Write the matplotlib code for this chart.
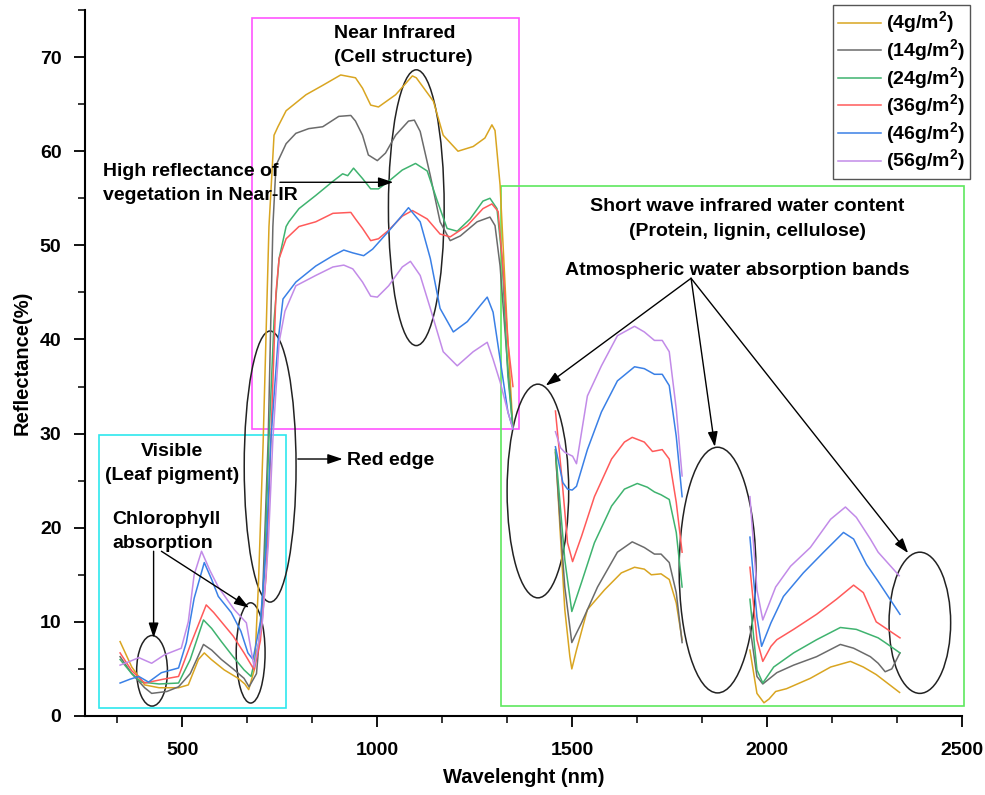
import matplotlib
matplotlib.use('Agg')
import matplotlib.pyplot as plt
import numpy as np
from matplotlib.patches import Ellipse, Rectangle
from matplotlib.ticker import MultipleLocator

nan = np.nan

# wavelength (nm) / reflectance (%) per leaf loading, NaN splits the water bands
wave_4 = [340, 370, 403, 440, 490, 515, 541, 556, 574, 607, 643, 660, 670, 685, 695, 707, 722, 735, 745, 766,
          817, 860, 906, 944, 962, 983, 1003, 1047, 1090, 1100, 1144, 1169, 1207, 1246, 1276, 1294, 1302, 1315,
          1333, 1348, nan,
          1457, 1470, 1481, 1494, 1499, 1511, 1539, 1583, 1626, 1660, 1685, 1703, 1728, 1749, 1767, 1782, nan,
          1956, 1974, 1992, 2005, 2022, 2050, 2111, 2163, 2214, 2247, 2280, 2340]
refl_4 = [7.9, 5.2, 3.3, 3.0, 3.0, 3.3, 6.0, 6.7, 6.0, 4.9, 4.0, 3.4, 2.8, 5.0, 14, 29, 52, 61.7, 62.6, 64.3,
          66.0, 67.0, 68.1, 67.8, 66.7, 64.9, 64.7, 66.0, 68.0, 67.8, 65.3, 61.7, 60.0, 60.5, 61.4, 62.8, 62.2, 56.4,
          41.4, 30.5, nan,
          28.3, 19.0, 11.3, 6.3, 5.0, 7.0, 11.3, 13.4, 15.2, 15.8, 15.6, 15.0, 15.1, 14.5, 12.0, 8.1, nan,
          7.0, 2.4, 1.4, 1.8, 2.6, 2.9, 4.0, 5.2, 5.8, 5.2, 4.4, 2.5]

wave_14 = [340, 370, 403, 421, 460, 490, 520, 554, 575, 600, 630, 658, 671, 690, 705, 720, 732, 740, 766, 791,
           824, 860, 901, 932, 944, 962, 977, 1000, 1021, 1047, 1080, 1095, 1110, 1136, 1161, 1187, 1213, 1256,
           1289, 1302, 1315, 1333, 1348, nan,
           1457, 1470, 1481, 1499, 1524, 1565, 1616, 1654, 1685, 1711, 1728, 1749, 1767, 1782, nan,
           1956, 1974, 1989, 2025, 2068, 2127, 2188, 2222, 2265, 2285, 2303, 2320, 2341]
refl_14 = [6.3, 4.5, 3.0, 2.4, 2.6, 3.1, 4.5, 7.6, 7.0, 6.0, 5.0, 4.0, 3.1, 4.5, 12, 29.4, 52, 58.5, 60.8, 61.9,
           62.4, 62.6, 63.7, 63.8, 63.2, 61.7, 59.6, 59.0, 59.8, 61.7, 63.2, 63.3, 62.1, 57.4, 52.5, 50.5, 51.0, 52.5,
           53.0, 52.1, 47.8, 37.9, 30.5, nan,
           28.0, 20.0, 13.7, 7.8, 9.9, 13.7, 17.4, 18.5, 17.9, 17.2, 17.2, 16.3, 13.1, 7.8, nan,
           9.5, 4.2, 3.4, 4.6, 5.4, 6.3, 7.6, 7.2, 6.3, 5.6, 4.7, 5.0, 6.7]

wave_24 = [340, 370, 395, 440, 490, 520, 554, 575, 600, 630, 658, 676, 697, 710, 722, 735, 748, 766, 773, 799,
           842, 886, 911, 924, 939, 962, 983, 1003, 1029, 1064, 1098, 1128, 1154, 1179, 1205, 1238, 1271, 1289,
           1307, 1320, 1335, 1348, nan,
           1457, 1470, 1481, 1499, 1524, 1557, 1601, 1634, 1667, 1693, 1711, 1728, 1749, 1767, 1782, nan,
           1956, 1974, 1989, 2017, 2068, 2127, 2188, 2229, 2285, 2303, 2341]
refl_24 = [6.0, 4.5, 3.6, 3.4, 3.5, 6.0, 10.2, 9.3, 7.9, 6.3, 4.9, 4.2, 8, 15, 29.4, 42, 48.6, 52, 52.5, 53.9,
           55.3, 56.8, 57.6, 57.4, 58.2, 57.1, 56.0, 56.0, 56.8, 58.0, 58.7, 57.9, 54.7, 51.8, 51.5, 52.8, 54.7, 55.0,
           53.9, 48.6, 36.1, 30.5, nan,
           28.3, 22.0, 16.6, 11.1, 14.2, 18.4, 22.3, 24.1, 24.7, 24.3, 23.8, 23.5, 23.0, 19.5, 13.7, nan,
           12.4, 4.9, 3.5, 5.2, 6.7, 8.1, 9.4, 9.2, 8.3, 7.8, 6.7]

wave_36 = [340, 370, 403, 450, 490, 520, 561, 580, 600, 630, 658, 684, 700, 715, 727, 740, 748, 766, 799, 842,
           886, 932, 944, 962, 983, 1003, 1029, 1064, 1090, 1128, 1161, 1187, 1231, 1271, 1294, 1310, 1322, 1335,
           1348, nan,
           1457, 1473, 1488, 1501, 1524, 1557, 1601, 1634, 1654, 1685, 1706, 1731, 1749, 1767, 1782, nan,
           1956, 1974, 1989, 2010, 2025, 2068, 2127, 2178, 2222, 2247, 2280, 2341]
refl_36 = [6.7, 4.8, 3.5, 3.9, 4.2, 7.5, 11.8, 11.0, 10.0, 8.5, 6.7, 4.9, 8, 15, 29.4, 45, 48.6, 50.7, 52.0, 52.5,
           53.4, 53.5, 52.8, 51.8, 50.5, 50.7, 51.6, 53.1, 53.7, 52.8, 51.2, 50.9, 52.1, 53.9, 54.4, 53.6, 47.8, 39.7,
           35.0, nan,
           32.4, 25.5, 18.4, 16.4, 19.1, 23.3, 27.3, 29.1, 29.6, 29.1, 28.1, 28.3, 27.3, 22.7, 17.4, nan,
           15.8, 8.1, 5.8, 7.4, 8.1, 9.2, 10.8, 12.4, 13.9, 13.1, 10.0, 8.3]

wave_46 = [340, 365, 388, 413, 446, 490, 510, 530, 556, 575, 592, 625, 650, 668, 681, 700, 715, 727, 745, 758,
           791, 842, 886, 914, 937, 965, 988, 1029, 1064, 1080, 1110, 1136, 1161, 1195, 1231, 1264, 1282, 1297,
           1315, 1335, 1348, nan,
           1457, 1476, 1488, 1500, 1511, 1539, 1575, 1616, 1660, 1685, 1711, 1731, 1749, 1767, 1782, nan,
           1956, 1974, 1986, 2010, 2042, 2093, 2145, 2196, 2222, 2255, 2285, 2341]
refl_46 = [3.5, 3.9, 4.2, 3.6, 4.6, 5.1, 7.8, 12.5, 16.3, 14.5, 12.7, 11.0, 9.0, 6.7, 6.0, 10, 18, 29.4, 39.7, 44.3,
           46.1, 47.8, 48.9, 49.5, 49.2, 48.9, 49.6, 51.5, 53.2, 54.0, 52.5, 48.6, 43.3, 40.8, 41.9, 43.6, 44.5, 42.9,
           37.9, 32.3, 30.5, nan,
           28.6, 24.8, 24.1, 24.0, 24.4, 28.3, 32.3, 35.6, 37.1, 36.9, 36.3, 36.3, 35.1, 29.7, 23.3, nan,
           19.0, 10.5, 7.4, 9.9, 12.7, 15.2, 17.4, 19.5, 18.8, 16.1, 14.3, 10.8]

wave_56 = [340, 365, 388, 421, 454, 497, 515, 530, 549, 570, 592, 633, 664, 676, 684, 705, 720, 732, 748, 763,
           791, 842, 886, 914, 937, 962, 983, 1000, 1029, 1064, 1085, 1110, 1136, 1169, 1205, 1246, 1282, 1297,
           1315, 1335, 1348, nan,
           1457, 1470, 1481, 1501, 1511, 1539, 1575, 1616, 1660, 1685, 1711, 1731, 1749, 1767, 1782, nan,
           1956, 1974, 1989, 2022, 2060, 2111, 2163, 2201, 2229, 2265, 2285, 2339]
refl_56 = [5.4, 5.8, 6.2, 5.6, 6.5, 7.2, 10, 15, 17.5, 15.5, 13.7, 11.3, 9.9, 7.0, 5.2, 10, 18, 29.4, 39.7, 43.0,
           45.7, 46.8, 47.7, 47.9, 47.5, 46.1, 44.6, 44.5, 45.7, 47.7, 48.3, 46.8, 43.3, 38.7, 37.2, 38.7, 39.7, 37.9,
           35.5, 32.3, 30.5, nan,
           30.2, 28.5, 28.0, 27.6, 26.8, 34.0, 37.2, 40.4, 41.4, 40.8, 39.9, 39.9, 38.7, 32.6, 25.5, nan,
           23.3, 13.4, 10.2, 13.7, 15.9, 17.9, 20.9, 22.2, 21.1, 18.8, 17.4, 14.9]

labels = ['(4g/m$^{\\mathbf{2}}$)', '(14g/m$^{\\mathbf{2}}$)', '(24g/m$^{\\mathbf{2}}$)',
          '(36g/m$^{\\mathbf{2}}$)', '(46g/m$^{\\mathbf{2}}$)', '(56g/m$^{\\mathbf{2}}$)']
colors = ['#d9a521', '#6b6b6b', '#3fb36f', '#ff5a5a', '#3a80e6', '#c28be8']

plt.rcParams['font.family'] = ['Liberation Sans', 'DejaVu Sans']
plt.rcParams['font.weight'] = 'bold'
plt.rcParams['mathtext.fontset'] = 'custom'
plt.rcParams['mathtext.bf'] = 'Liberation Sans:bold'
plt.rcParams['mathtext.rm'] = 'Liberation Sans:bold'

fig = plt.figure(figsize=(9.85, 7.95), dpi=100)
ax = fig.add_axes([0.0863, 0.0994, 0.8903, 0.8880])

series = [(wave_4, refl_4), (wave_14, refl_14), (wave_24, refl_24),
          (wave_36, refl_36), (wave_46, refl_46), (wave_56, refl_56)]
for (w, r), lab, c in zip(series, labels, colors):
    ax.plot(w, r, color=c, lw=1.1, label=lab)

ax.set_xlim(250, 2500)
ax.set_ylim(0, 75)
ax.xaxis.set_major_locator(MultipleLocator(500))
ax.xaxis.set_minor_locator(MultipleLocator(500 / 3))
ax.yaxis.set_major_locator(MultipleLocator(10))
ax.yaxis.set_minor_locator(MultipleLocator(5))
ax.tick_params(which='major', direction='out', length=8, width=1.3, labelsize=14)
ax.tick_params(axis='x', which='major', pad=11)
ax.tick_params(axis='y', which='major', pad=9)
ax.tick_params(which='minor', direction='out', length=5, width=1.1)
for s in ['top', 'right']:
    ax.spines[s].set_visible(False)
for s in ['left', 'bottom']:
    ax.spines[s].set_linewidth(1.5)
ax.set_xlabel('Wavelenght (nm)', fontsize=14.5, fontweight='bold', labelpad=6)
ax.set_ylabel('Reflectance(%)', fontsize=14.5, fontweight='bold', labelpad=6)

# region boxes
ax.add_patch(Rectangle((285, 0.85), 480, 28.95, fill=False, ec='#2ee8ee', lw=1.2))
ax.add_patch(Rectangle((679, 30.5), 684, 43.65, fill=False, ec='#ff55ff', lw=1.2))
ax.add_patch(Rectangle((1317, 1.07), 1188, 55.23, fill=False, ec='#5ee85e', lw=1.2, clip_on=False))

# ellipses
for cx, cy, ew, eh in [(422, 4.8, 79, 7.5), (675, 6.7, 74, 10.65), (725, 26.5, 133, 28.8),
                       (1100, 54.0, 143, 29.3), (1412, 23.9, 158, 22.7), (1873, 15.5, 197, 26.1),
                       (2392, 9.9, 158, 15.0)]:
    ax.add_patch(Ellipse((cx, cy), ew, eh, fill=False, ec='#222222', lw=1.1))

arrow = dict(arrowstyle='-|>,head_length=0.9,head_width=0.3', color='black', lw=1.0, shrinkA=0, shrinkB=0)
ax.annotate('', xy=(426, 8.3), xytext=(426, 17.5), arrowprops=arrow)
ax.annotate('', xy=(671, 11.5), xytext=(446, 17.5), arrowprops=arrow)
ax.annotate('', xy=(911, 27.3), xytext=(796, 27.3), arrowprops=arrow)
ax.annotate('', xy=(1041, 56.7), xytext=(750, 56.7), arrowprops=arrow)
for hx, hy in [(1432, 35.1), (1866, 28.6), (2362, 17.3)]:
    ax.annotate('', xy=(hx, hy), xytext=(1805, 46.5), arrowprops=arrow)

txt = dict(fontsize=14, fontweight='bold', va='center', linespacing=1.55)
ax.text(889, 71.2, 'Near Infrared\n(Cell structure)', ha='left', **txt)
ax.text(297, 56.6, 'High reflectance of\nvegetation in Near-IR', ha='left', **txt)
ax.text(1950, 52.8, 'Short wave infrared water content\n(Protein, lignin, cellulose)', ha='center', **txt)
ax.text(1923, 47.3, 'Atmospheric water absorption bands', ha='center', **txt)
ax.text(474, 26.8, 'Visible\n(Leaf pigment)', ha='center', **txt)
ax.text(921, 27.1, 'Red edge', ha='left', **txt)
ax.text(320, 19.6, 'Chlorophyll\nabsorption', ha='left', **txt)

leg = ax.legend(loc='upper right', bbox_to_anchor=(970 / 985, 1 - 5 / 795), bbox_transform=fig.transFigure,
                fontsize=14, frameon=True, fancybox=False, framealpha=1, handlelength=2.2, labelspacing=0.05,
                borderaxespad=0, handletextpad=0.3, borderpad=0.25)
leg.get_frame().set_edgecolor('#555555')
leg.get_frame().set_linewidth(1.0)
for t in leg.get_texts():
    t.set_fontweight('bold')

fig.savefig('out.png', dpi=100)
